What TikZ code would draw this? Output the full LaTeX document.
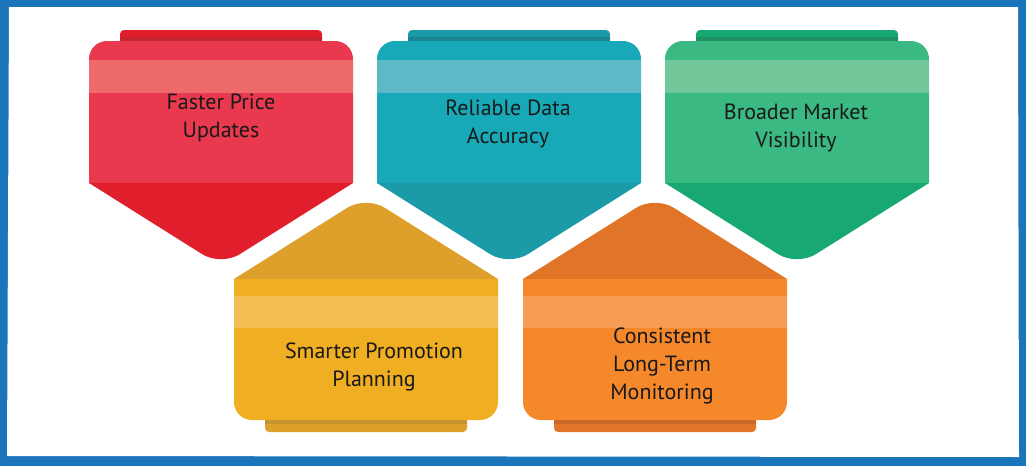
\documentclass[tikz,border=0pt]{standalone}
\usepackage{fontspec}
\setmainfont{PT Sans}

\definecolor{frameblue}{HTML}{1B75BB}
\definecolor{redbody}{HTML}{E8394E}
\definecolor{redband}{HTML}{EF6B6B}
\definecolor{redtip}{HTML}{E01E2C}
\definecolor{redtab}{HTML}{C22530}
\definecolor{tealbody}{HTML}{17A9B8}
\definecolor{tealband}{HTML}{5DB8C8}
\definecolor{tealtip}{HTML}{1B9BA8}
\definecolor{tealtab}{HTML}{1A8590}
\definecolor{greenbody}{HTML}{3BB982}
\definecolor{greenband}{HTML}{72C79B}
\definecolor{greentip}{HTML}{17A971}
\definecolor{greentab}{HTML}{1E8F62}
\definecolor{yellowbody}{HTML}{F0AE22}
\definecolor{yellowband}{HTML}{F2BD53}
\definecolor{yellowroof}{HTML}{DDA12B}
\definecolor{yellowtab}{HTML}{C69230}
\definecolor{orangebody}{HTML}{F5882B}
\definecolor{orangeband}{HTML}{F79C55}
\definecolor{orangeroof}{HTML}{E07427}
\definecolor{orangetab}{HTML}{C9682A}

\tikzset{cardtext/.style={align=center, text=black!90, font=\fontsize{22}{28}\selectfont}}

% card pointing down: #1 left edge, #2 colour prefix
\newcommand{\downcard}[2]{%
  \fill[#2tip, rounded corners=4pt] (#1+31,45) -- (#1+31,30) -- (#1+233,30) -- (#1+233,45);
  \fill[#2tab] (#1+31,37) rectangle (#1+233,41);
  \fill[#2body, rounded corners=18pt] (#1,183) -- (#1,41) -- (#1+264,41) -- (#1+264,183);
  \fill[#2band] (#1,60) rectangle (#1+264,93);
  \fill[#2tip, rounded corners=22pt] (#1,183) -- (#1+132,266) -- (#1+264,183);
}
% card pointing up
\newcommand{\upcard}[2]{%
  \fill[#2roof, rounded corners=4pt] (#1+31,410) -- (#1+31,432) -- (#1+233,432) -- (#1+233,410);
  \fill[#2tab] (#1+31,420) rectangle (#1+233,424);
  \fill[#2roof, rounded corners=22pt] (#1,279) -- (#1+132,196) -- (#1+264,279);
  \fill[#2body, rounded corners=18pt] (#1,279) -- (#1,420) -- (#1+264,420) -- (#1+264,279);
  \fill[#2band] (#1,296) rectangle (#1+264,328);
}

\begin{document}
\begin{tikzpicture}[x=1pt, y=-1pt]
  \useasboundingbox (0,0) rectangle (1026,466);
  \fill[frameblue] (0,0) rectangle (1026,466);
  \fill[white] (9,7) -- (1018,7) -- (1019,457) -- (7,456) -- cycle;

  \downcard{89}{red}
  \downcard{377}{teal}
  \downcard{665}{green}
  \upcard{234}{yellow}
  \upcard{523}{orange}

  \node[cardtext] (price) at (221,118) {Faster Price\\Updates};
  \node[cardtext] (accuracy) at (508,124) {Reliable Data\\Accuracy};
  \node[cardtext] (visibility) at (796,128) {Broader Market\\Visibility};
  \node[cardtext] (promotion) at (374,367) {Smarter Promotion\\Planning};
  \node[cardtext] (monitoring) at (662,366) {Consistent\\Long-Term\\Monitoring};
\end{tikzpicture}
\end{document}
